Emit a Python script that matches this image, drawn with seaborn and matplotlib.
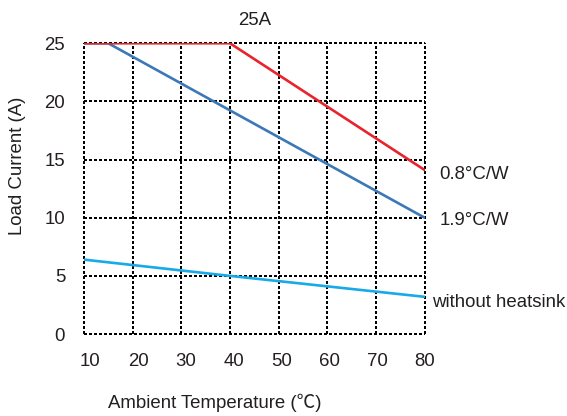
import numpy as np
import pandas as pd
import matplotlib
matplotlib.use("Agg")
import matplotlib.pyplot as plt
import matplotlib.transforms as mtransforms
import seaborn as sns

# derating curves
temp_08 = [10, 40, 80]
load_08 = [25, 25, 14.1]
temp_19 = [10, 15, 80]
load_19 = [25, 25, 10]
temp_none = [10, 40, 80]
load_none = [6.4, 5.0, 3.2]

series_names = ["0.8°C/W", "1.9°C/W", "without heatsink"]
series_colors = ["#e8232b", "#3b78b8", "#17aae6"]

x_ticks = [10, 20, 30, 40, 50, 60, 70, 80]
y_ticks = [0, 5, 10, 15, 20, 25]

df = pd.concat([
    pd.DataFrame({"temp": temp_19, "load": load_19, "curve": series_names[1]}),
    pd.DataFrame({"temp": temp_none, "load": load_none, "curve": series_names[2]}),
    pd.DataFrame({"temp": temp_08, "load": load_08, "curve": series_names[0]}),
])

sns.set_style("white")
plt.rcParams["font.family"] = ["Liberation Sans", "Noto Sans CJK SC", "DejaVu Sans"]
txt = "#231f20"
fs = 13.4

fig = plt.figure(figsize=(5.67, 4.16), dpi=100)
ax = fig.add_axes([0.148, 0.197, 0.601, 0.699])

# dotted grid, the outer frame included
dots = (0, (1, 1.1))
for v in x_ticks:
    ax.axvline(v, color="black", lw=1.45, ls=dots, zorder=1,
               antialiased=False, clip_on=False)
for v in y_ticks:
    ax.axhline(v, color="black", lw=1.45, ls=dots, zorder=1,
               antialiased=False, clip_on=False)

palette = dict(zip(series_names, series_colors))
sns.lineplot(data=df, x="temp", y="load", hue="curve", palette=palette,
             linewidth=1.9, legend=False, ax=ax, zorder=3)

ax.set_xlim(10, 80)
ax.set_ylim(0, 25)
ax.set_xticks(x_ticks)
ax.set_yticks(y_ticks)
ax.tick_params(length=0, labelsize=fs, colors=txt)
ax.tick_params(axis="x", pad=14)
ax.tick_params(axis="y", pad=13.5)
for s in ax.spines.values():
    s.set_visible(False)

# in the original the x tick labels drift a little right of their grid lines
for i, lbl in enumerate(ax.get_xticklabels()):
    shift = (6.5 - 0.9 * i) / 100
    lbl.set_transform(lbl.get_transform()
                      + mtransforms.ScaledTranslation(shift, 0, fig.dpi_scale_trans))

# axis labels sit a bit off-centre in the original
ax.set_xlabel("Ambient Temperature (℃)", fontsize=fs, color=txt, labelpad=17, x=0.384)
ax.set_ylabel("Load Current (A)", fontsize=fs, color=txt, labelpad=13, y=0.58)
ax.set_title("25A", fontsize=fs, color=txt, pad=13)

# curve labels at the right end
ax.text(83.0, 13.7, series_names[0], fontsize=fs, color=txt, va="center")
ax.text(83.0, 9.8, series_names[1], fontsize=fs, color=txt, va="center")
ax.text(81.5, 2.7, series_names[2], fontsize=fs, color=txt, va="center")

fig.savefig("out.png", dpi=100)
